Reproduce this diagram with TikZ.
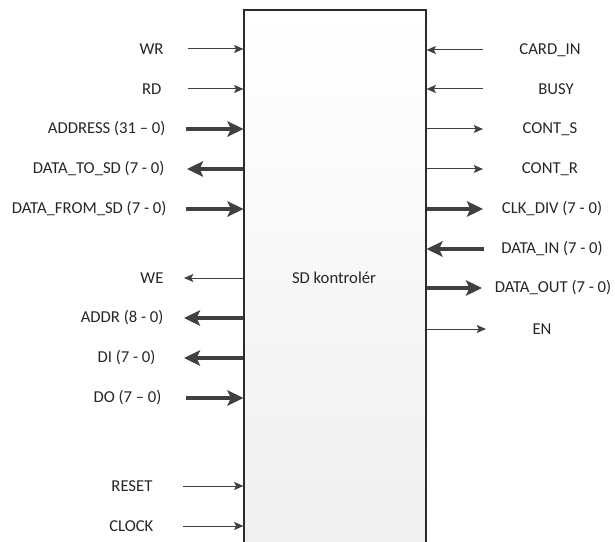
\documentclass[tikz,border=0pt]{standalone}
\usepackage{fontspec}
\setmainfont{Carlito}
\usepackage{tikz}
\usetikzlibrary{arrows.meta, positioning}
\definecolor{sdgray}{HTML}{404040}
\definecolor{sdedge}{HTML}{2B2B2B}
\definecolor{sdfill}{HTML}{EFEFEF}

\begin{document}
\begin{tikzpicture}[x=0.75pt, y=-0.75pt,
  every node/.style={font=\fontsize{12.5}{15}\selectfont, text=black!85, inner sep=1pt},
  ctrlbox/.style={rectangle, draw=sdedge, line width=0.8pt, top color=white, bottom color=sdfill, minimum width=136.5pt, minimum height=420pt},
  thinsig/.style={draw=sdgray, line width=0.75pt, -{Stealth[length=7pt, width=6pt, inset=1.5pt]}},
  thicksig/.style={draw=sdgray, line width=3pt, -{Stealth[length=12pt, width=11.5pt, inset=2.5pt]}},
]
\useasboundingbox (0,0) rectangle (615,542);
\node[ctrlbox] (ctrl) at (335,290) {};
\node (title) at (334,278) {SD kontrolér};

% left side
\node[anchor=east] (wr) at (165,49) {WR};
\node[anchor=east] (rd) at (163,89) {RD};
\node[anchor=east] (address) at (167,129) {ADDRESS (31 – 0)};
\node[anchor=east] (datatosd) at (166,169) {DATA\_TO\_SD (7 - 0)};
\node[anchor=east] (datafromsd) at (168,209) {DATA\_FROM\_SD (7 - 0)};
\node[anchor=east] (we) at (165,278) {WE};
\node[anchor=east] (addr) at (165,318) {ADDR (8 - 0)};
\node[anchor=east] (di) at (157,358) {DI (7 - 0)};
\node[anchor=east] (do) at (163,398) {DO (7 – 0)};
\node[anchor=east] (reset) at (154,486) {RESET};
\node[anchor=east] (clock) at (155,526) {CLOCK};
\coordinate (wr-p) at (188,49);
\coordinate (rd-p) at (188,89);
\coordinate (address-p) at (186,129);
\coordinate (datatosd-p) at (187,169);
\coordinate (datafromsd-p) at (186,209);
\coordinate (we-p) at (184,278);
\coordinate (addr-p) at (184,318);
\coordinate (di-p) at (184,358);
\coordinate (do-p) at (186,398);
\coordinate (reset-p) at (183,486);
\coordinate (clock-p) at (183,526);
\draw[thinsig] (wr-p) -- (wr-p -| ctrl.west);
\draw[thinsig] (rd-p) -- (rd-p -| ctrl.west);
\draw[thicksig] (address-p) -- (address-p -| ctrl.west);
\draw[thicksig] (datatosd-p -| ctrl.west) -- (datatosd-p);
\draw[thicksig] (datafromsd-p) -- (datafromsd-p -| ctrl.west);
\draw[thinsig] (we-p -| ctrl.west) -- (we-p);
\draw[thicksig] (addr-p -| ctrl.west) -- (addr-p);
\draw[thicksig] (di-p -| ctrl.west) -- (di-p);
\draw[thicksig] (do-p) -- (do-p -| ctrl.west);
\draw[thinsig] (reset-p) -- (reset-p -| ctrl.west);
\draw[thinsig] (clock-p) -- (clock-p -| ctrl.west);

% right side
\node (cardin) at (550,50) {CARD\_IN};
\node (busy) at (556,89) {BUSY};
\node (conts) at (550,129) {CONT\_S};
\node (contr) at (550,169) {CONT\_R};
\node (clkdiv) at (552,209) {CLK\_DIV (7 - 0)};
\node (datain) at (552,249) {DATA\_IN (7 - 0)};
\node (dataout) at (553,288) {DATA\_OUT (7 - 0)};
\node (en) at (542,329) {EN};
\coordinate (cardin-p) at (483,50);
\coordinate (busy-p) at (483,89);
\coordinate (conts-p) at (483,129);
\coordinate (contr-p) at (483,169);
\coordinate (clkdiv-p) at (483,209);
\coordinate (datain-p) at (484,249);
\coordinate (dataout-p) at (482,288);
\coordinate (en-p) at (486,329);
\draw[thinsig] (cardin-p) -- (cardin-p -| ctrl.east);
\draw[thinsig] (busy-p) -- (busy-p -| ctrl.east);
\draw[thinsig] (conts-p -| ctrl.east) -- (conts-p);
\draw[thinsig] (contr-p -| ctrl.east) -- (contr-p);
\draw[thicksig] (clkdiv-p -| ctrl.east) -- (clkdiv-p);
\draw[thicksig] (datain-p) -- (datain-p -| ctrl.east);
\draw[thicksig] (dataout-p -| ctrl.east) -- (dataout-p);
\draw[thinsig] (en-p -| ctrl.east) -- (en-p);
\end{tikzpicture}
\end{document}
